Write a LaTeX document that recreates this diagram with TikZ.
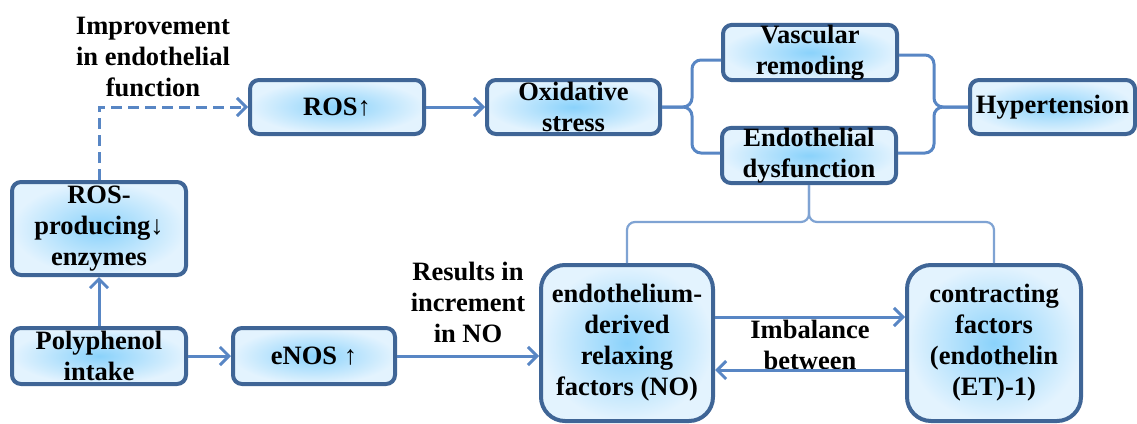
\documentclass[tikz,border=0pt]{standalone}
\usepackage{fontspec}
\setmainfont{Liberation Serif}
\usetikzlibrary{arrows.meta}
\definecolor{bord}{HTML}{3F6596}
\definecolor{lnc}{HTML}{5886C4}
\definecolor{lnl}{HTML}{7FA3D3}
\definecolor{inC}{HTML}{8AD2FB}
\definecolor{outC}{HTML}{E3F3FE}
\begin{document}
\begin{tikzpicture}[x=1pt,y=-1pt,
  font=\fontsize{26.5}{31}\selectfont\bfseries,
  box/.style={draw=bord, line width=4pt, rounded corners=9pt, inner color=inC, outer color=outC, align=center, inner sep=0pt},
  bigbox/.style={box, rounded corners=24pt},
  conn/.style={draw=lnc, line width=3pt, -{Straight Barb[length=9pt,width=18pt]}},
  brace/.style={draw=lnc, line width=3pt, rounded corners=9pt},
  thinbrace/.style={draw=lnl, line width=2.2pt, rounded corners=8pt},
  lbl/.style={align=center, inner sep=0pt}]
\useasboundingbox (0,0) rectangle (1137,423);

\node[box, minimum width=174pt, minimum height=54pt] (ros) at (337,107) {ROS↑};
\node[box, minimum width=173pt, minimum height=54pt] (ox) at (573.5,107) {Oxidative\\stress};
\node[box, minimum width=174pt, minimum height=55pt] (vas) at (810,52.5) {Vascular\\remoding};
\node[box, minimum width=174pt, minimum height=55pt] (ed) at (809,155.5) {Endothelial\\dysfunction};
\node[box, minimum width=165pt, minimum height=54pt] (hyp) at (1052.5,107) {Hypertension};
\node[box, minimum width=174pt, minimum height=93pt] (rosp) at (99,228.5) {ROS-\\producing↓\\enzymes};
\node[box, minimum width=174pt, minimum height=56pt] (poly) at (99,356) {Polyphenol\\intake};
\node[box, minimum width=162pt, minimum height=56pt] (enos) at (314,356) {eNOS ↑};
\node[bigbox, minimum width=172pt, minimum height=156pt] (endo) at (627,343) {endothelium-\\derived\\relaxing\\factors (NO)};
\node[bigbox, minimum width=174pt, minimum height=156pt] (contr) at (994,343) {contracting\\factors\\(endothelin\\(ET)-1)};

\node[lbl] (limp) at (153,57) {Improvement\\in endothelial\\function};
\node[lbl] (lres) at (468,302) {Results in\\increment\\in NO};
\node[lbl] (limb) at (810,345) {Imbalance\\between};

% connectors
\draw[conn, dashed, dash pattern=on 11pt off 6pt] (rosp.north) |- (ros.west);
\draw[conn] (poly.north) -- (rosp.south);
\draw[conn] (poly.east) -- (enos.west);
\draw[conn] (enos.east) -- (endo.west |- enos.east);
\draw[conn] (ros.east) -- (ox.west);
\draw[conn] (endo.east |- 0,317) -- (contr.west |- 0,317);
\draw[conn] (contr.west |- 0,370) -- (endo.east |- 0,370);

% braces
\coordinate (lb) at (692,107);
\draw[brace] (vas.west |- 0,60) -| (lb) -- (ox.east);
\draw[brace] (ed.west |- 0,153) -| (lb) -- (ox.east);
\coordinate (rb) at (934,107);
\draw[brace] (vas.east |- 0,55) -| (rb) -- (hyp.west);
\draw[brace] (ed.east |- 0,153) -| (rb) -- (hyp.west);
\coordinate (bb) at (809,222);
\draw[thinbrace] (ed.south) -- (bb) -| (endo.north);
\draw[thinbrace] (ed.south) -- (bb) -| (contr.north);
\end{tikzpicture}
\end{document}
